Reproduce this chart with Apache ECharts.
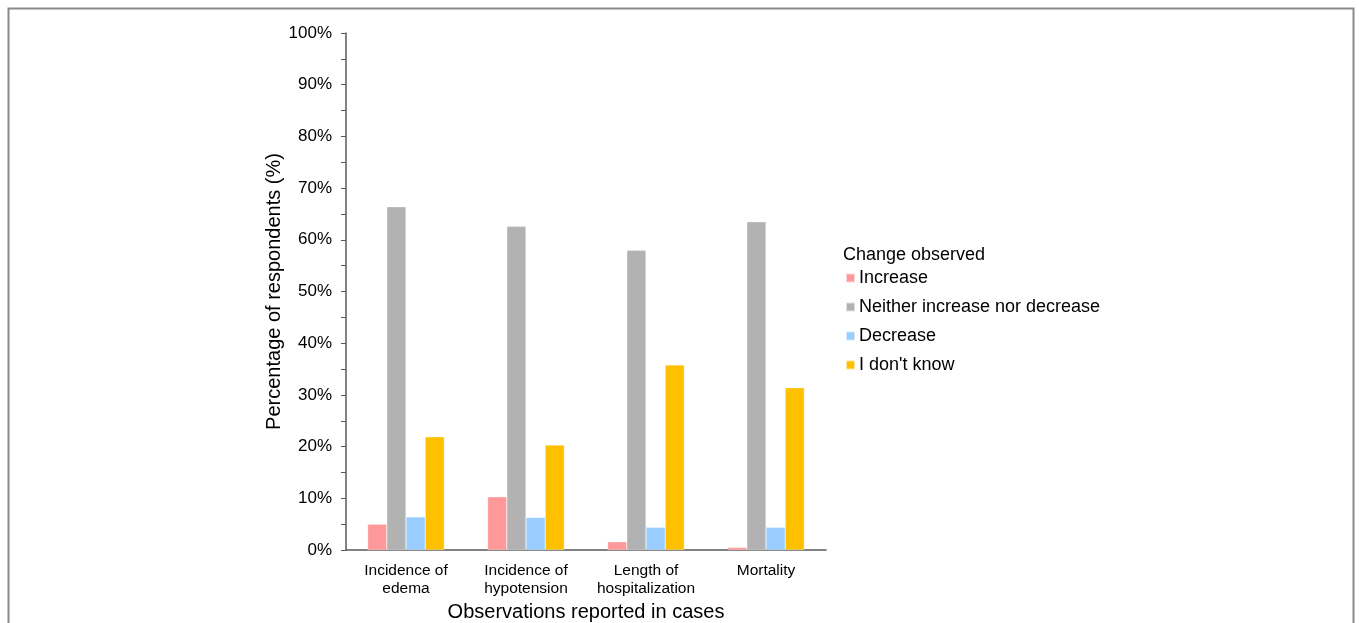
<!DOCTYPE html>
<html><head><meta charset="utf-8">
<script src="https://cdn.jsdelivr.net/npm/echarts@6/dist/echarts.min.js"></script>
<style>html,body{margin:0;padding:0;background:#fff}#c{width:1359px;height:623px}</style>
</head><body><div id="c"></div>
<script>
var categories = ['Incidence of\nedema', 'Incidence of\nhypotension', 'Length of\nhospitalization', 'Mortality'];
var seriesNames = ['Increase', 'Neither increase nor decrease', 'Decrease', "I don't know"];
var increase = [5.0, 10.3, 1.6, 0.5];
var neither = [66.4, 62.6, 58.0, 63.5];
var decrease = [6.4, 6.3, 4.4, 4.4];
var dontKnow = [21.9, 20.3, 35.8, 31.4];
var yTicks = [0, 10, 20, 30, 40, 50, 60, 70, 80, 90, 100];
var colors = ['#FF9999', '#B2B2B2', '#99CCFF', '#FFC000'];
var FONT = 'Liberation Sans, Arial, sans-serif';

var chart = echarts.init(document.getElementById('c'), null, {renderer: 'canvas'});
var values = [increase, neither, decrease, dontKnow];
chart.setOption({
  animation: false,
  textStyle: {fontFamily: FONT},
  graphic: [{type: 'rect', shape: {x: 8.5, y: 8.5, width: 1345, height: 640}, style: {fill: 'none', stroke: '#8a8a8a', lineWidth: 2}, silent: true}],
  title: {text: 'Change observed', left: 843, top: 246, padding: 0,
    textStyle: {fontFamily: FONT, fontSize: 18, fontWeight: 'normal', color: '#000'}},
  legend: {orient: 'vertical', left: 845, top: 269, padding: 0, itemWidth: 9, itemHeight: 9, itemGap: 11,
    icon: 'rect', data: seriesNames,
    textStyle: {fontFamily: FONT, fontSize: 18, color: '#000', padding: [0, 0, 0, -1]}},
  grid: {left: 346, right: 533, top: 33, bottom: 73, containLabel: false, outerBoundsMode: 'none'},
  xAxis: {type: 'category', data: categories,
    name: 'Observations reported in cases', nameLocation: 'middle', nameGap: 45,
    nameTextStyle: {fontFamily: FONT, fontSize: 20, color: '#000'},
    axisLine: {lineStyle: {color: '#595959', width: 1.5}}, axisTick: {show: false},
    axisLabel: {fontFamily: FONT, fontSize: 15.5, color: '#000', lineHeight: 18, margin: 12, interval: 0}},
  yAxis: {type: 'value', min: 0, max: 100, interval: 10,
    name: 'Percentage of respondents (%)', nameLocation: 'middle', nameGap: 62,
    nameTextStyle: {fontFamily: FONT, fontSize: 20, color: '#000'},
    axisLine: {show: true, lineStyle: {color: '#595959', width: 1.5}},
    axisTick: {show: true, length: 5, lineStyle: {color: '#595959'}},
    minorTick: {show: true, splitNumber: 2, length: 5, lineStyle: {color: '#595959'}},
    splitLine: {show: false},
    axisLabel: {fontFamily: FONT, fontSize: 17, color: '#000', margin: 14,
      formatter: function (v) { return yTicks.indexOf(v) >= 0 ? v + '%' : ''; }}},
  series: seriesNames.map(function (n, i) {
    return {name: n, type: 'bar', data: values[i], barGap: '0%', barCategoryGap: '36%',
      itemStyle: {color: colors[i], borderColor: 'rgba(255,255,255,0.6)', borderWidth: 0.5}};
  })
});
</script></body></html>
